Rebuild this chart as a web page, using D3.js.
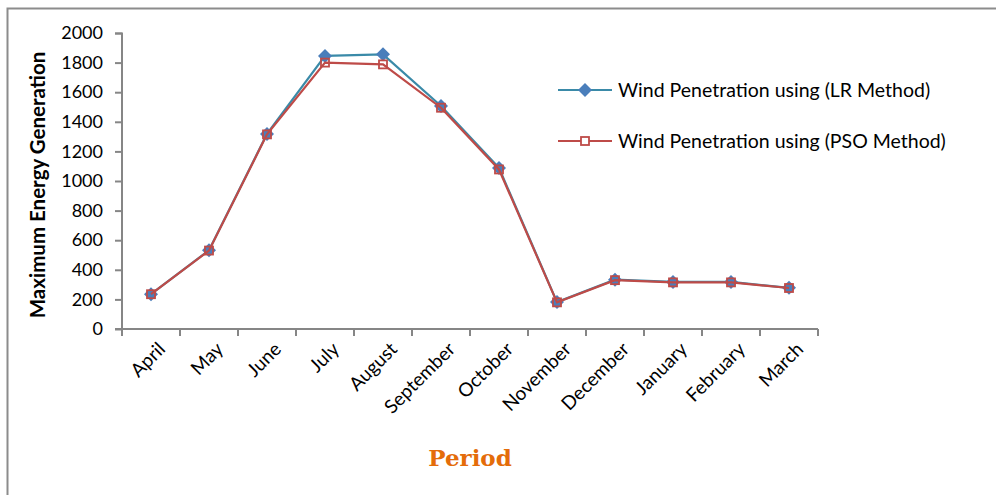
<!DOCTYPE html>
<html><head><meta charset="utf-8">
<script src="https://cdn.jsdelivr.net/npm/d3@7/dist/d3.min.js"></script>
<style>body{margin:0;background:#fff}svg{display:block}</style>
</head><body>
<svg id="c" width="996" height="495"></svg>
<script>
const months = ["April","May","June","July","August","September","October","November","December","January","February","March"];
const lrValues = [235, 532, 1318, 1845, 1856, 1507, 1088, 182, 333, 318, 318, 278];
const psoValues = [235, 530, 1315, 1800, 1788, 1495, 1078, 180, 330, 315, 315, 277];
const yTicks = [0,200,400,600,800,1000,1200,1400,1600,1800,2000];
const seriesNames = ["Wind Penetration using (LR Method)","Wind Penetration using (PSO Method)"];

const svg = d3.select("#c");
const font = "Lato, 'Open Sans', sans-serif";
// frame
svg.append("path").attr("d","M7.5,495 V8.5 H996").attr("fill","none").attr("stroke","#8c8c8c").attr("stroke-width",2);

const x = d3.scaleBand().domain(months).range([122,818]);
const y = d3.scaleLinear().domain([0,2000]).range([329,33]);
const axisColor = "#868686";

const gy = svg.append("g").attr("transform","translate(122,0)")
  .call(d3.axisLeft(y).tickValues(yTicks).tickSize(7).tickPadding(12).tickFormat(d3.format("d")));
gy.select(".domain").attr("stroke",axisColor).attr("stroke-width",2).attr("d","M-7,33.5H0V329");
gy.selectAll(".tick line").attr("stroke",axisColor).attr("stroke-width",2);
gy.selectAll(".tick text").attr("font-family",font).attr("font-size",18).attr("fill","#000");

const gx = svg.append("g").attr("transform","translate(0,329)");
gx.append("line").attr("x1",115).attr("x2",818).attr("y1",0).attr("y2",0).attr("stroke",axisColor).attr("stroke-width",2);
const tickPos = months.map(m=>x(m)).concat([x.range()[1]]);
gx.selectAll("line.t").data(tickPos).join("line").attr("class","t")
  .attr("x1",d=>d).attr("x2",d=>d).attr("y1",0).attr("y2",7).attr("stroke",axisColor).attr("stroke-width",2);
gx.selectAll("text").data(months).join("text")
  .attr("transform",d=>`translate(${x(d)+x.bandwidth()/2+6},12) rotate(-45)`)
  .attr("text-anchor","end").attr("dy","0.7em")
  .attr("font-family",font).attr("font-size",19).attr("fill","#000").text(d=>d);

const line = d3.line().x((d,i)=>x(months[i])+x.bandwidth()/2).y(d=>y(d));
const lrColor = "#3a8aa8", lrMark = "#4a7ebb", psoColor = "#be4b48";
const diamondPath = "M0,-7L7,0L0,7L-7,0Z";

svg.append("path").datum(lrValues).attr("d",line).attr("fill","none").attr("stroke",lrColor).attr("stroke-width",2.2);
svg.selectAll("path.lr").data(lrValues).join("path").attr("class","lr")
  .attr("d",diamondPath).attr("transform",(d,i)=>`translate(${x(months[i])+x.bandwidth()/2},${y(d)})`)
  .attr("fill",lrMark);

svg.append("path").datum(psoValues).attr("d",line).attr("fill","none").attr("stroke",psoColor).attr("stroke-width",2.2);
svg.selectAll("rect.pso").data(psoValues).join("rect").attr("class","pso")
  .attr("x",(d,i)=>x(months[i])+x.bandwidth()/2-4).attr("y",d=>y(d)-4)
  .attr("width",8).attr("height",8).attr("fill","none").attr("stroke",psoColor).attr("stroke-width",1.8);

// legend
const leg = svg.append("g");
const ly = [90,141];
leg.append("line").attr("x1",558).attr("x2",612).attr("y1",ly[0]).attr("y2",ly[0]).attr("stroke",lrColor).attr("stroke-width",2.2);
leg.append("path").attr("d",diamondPath).attr("transform",`translate(585,${ly[0]})`).attr("fill",lrMark);
leg.append("line").attr("x1",558).attr("x2",612).attr("y1",ly[1]).attr("y2",ly[1]).attr("stroke",psoColor).attr("stroke-width",2.2);
leg.append("rect").attr("x",581).attr("y",ly[1]-4).attr("width",8).attr("height",8).attr("fill","#fff").attr("stroke",psoColor).attr("stroke-width",1.8);
leg.selectAll("text").data(seriesNames).join("text")
  .attr("x",618).attr("y",(d,i)=>ly[i]).attr("dy","0.35em")
  .attr("font-family",font).attr("font-size",19.5).attr("fill","#000").text(d=>d);

// axis titles
svg.append("text").attr("transform","translate(45,185) rotate(-90)").attr("text-anchor","middle")
  .attr("font-family",font).attr("font-weight","bold").attr("font-size",20.5).attr("fill","#000").text("Maximum Energy Generation");
svg.append("text").attr("x",470).attr("y",466).attr("text-anchor","middle")
  .attr("font-family","'DejaVu Serif', serif").attr("font-weight","bold").attr("font-size",23).attr("fill","#e46c0a").text("Period");
</script>
</body></html>
